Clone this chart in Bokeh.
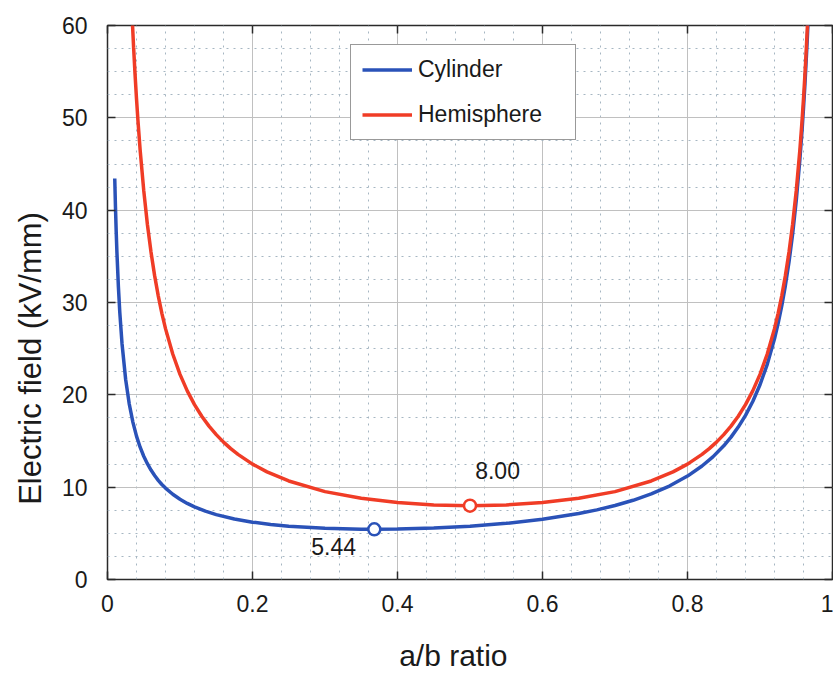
from bokeh.plotting import figure
from bokeh.models import (Range1d, FixedTicker, LinearAxis, Label, Legend,
                          LegendItem, CustomJSTickFormatter)
from bokeh.embed import file_html
from bokeh.resources import INLINE

# ---- data ----
cyl_x = [0.010, 0.011, 0.012, 0.013, 0.015, 0.017, 0.020, 0.025, 0.030, 0.035,
         0.040, 0.045, 0.050, 0.055, 0.060, 0.065, 0.070, 0.075, 0.080, 0.090,
         0.100, 0.110, 0.120, 0.135, 0.150, 0.175, 0.200, 0.225, 0.250, 0.300,
         0.350, 0.368, 0.400, 0.450, 0.500, 0.550, 0.600, 0.650, 0.675, 0.700,
         0.725, 0.750, 0.775, 0.800, 0.820, 0.835, 0.850, 0.860, 0.870, 0.880,
         0.890, 0.900, 0.910, 0.920, 0.925, 0.930, 0.935, 0.940, 0.945, 0.950,
         0.955, 0.958, 0.960, 0.962, 0.965, 0.967]
cyl_y = [43.43, 40.32, 37.68, 35.43, 31.75, 28.87, 25.56, 21.69, 19.01, 17.05,
         15.53, 14.33, 13.35, 12.54, 11.85, 11.26, 10.74, 10.29, 9.90, 9.23,
         8.69, 8.24, 7.86, 7.40, 7.03, 6.56, 6.21, 5.96, 5.77, 5.54,
         5.44, 5.44, 5.46, 5.57, 5.77, 6.08, 6.53, 7.14, 7.54, 8.01,
         8.58, 9.27, 10.12, 11.20, 12.29, 13.28, 14.48, 15.42, 16.51, 17.78,
         19.28, 21.09, 23.30, 26.07, 27.73, 29.63, 31.83, 34.38, 37.41, 41.04,
         45.49, 48.65, 51.04, 53.66, 58.17, 61.63]

hem_x = [0.034, 0.036, 0.038, 0.040, 0.042, 0.045, 0.050, 0.055, 0.060, 0.065,
         0.070, 0.075, 0.080, 0.090, 0.100, 0.110, 0.120, 0.130, 0.140, 0.150,
         0.160, 0.170, 0.180, 0.200, 0.220, 0.250, 0.300, 0.350, 0.400, 0.450,
         0.500, 0.550, 0.600, 0.650, 0.700, 0.750, 0.780, 0.800, 0.820, 0.830,
         0.840, 0.850, 0.860, 0.870, 0.880, 0.890, 0.900, 0.910, 0.920, 0.925,
         0.930, 0.935, 0.940, 0.945, 0.950, 0.955, 0.958, 0.960, 0.962, 0.963,
         0.966]
hem_y = [60.89, 57.63, 54.71, 52.08, 49.71, 46.54, 42.11, 38.48, 35.46, 32.91,
         30.72, 28.83, 27.17, 24.42, 22.22, 20.43, 18.94, 17.68, 16.61, 15.69,
         14.88, 14.17, 13.55, 12.50, 11.66, 10.67, 9.52, 8.79, 8.33, 8.08,
         8.00, 8.08, 8.33, 8.79, 9.52, 10.67, 11.66, 12.50, 13.55, 14.17,
         14.88, 15.69, 16.61, 17.68, 18.94, 20.43, 22.22, 24.42, 27.17, 28.83,
         30.72, 32.91, 35.46, 38.48, 42.11, 46.54, 49.71, 52.08, 54.71, 56.13,
         60.89]

cyl_min = (0.368, 5.44)
hem_min = (0.50, 8.00)
cyl_min_label = "5.44"
hem_min_label = "8.00"
series_names = ["Cylinder", "Hemisphere"]
x_title = "a/b ratio"
y_title = "Electric field (kV/mm)"

x_ticks = [0, 0.2, 0.4, 0.6, 0.8, 1.0]
x_minor = [0.04, 0.08, 0.12, 0.16, 0.24, 0.28, 0.32, 0.36, 0.44, 0.48, 0.52,
           0.56, 0.64, 0.68, 0.72, 0.76, 0.84, 0.88, 0.92, 0.96]
y_ticks = [0, 10, 20, 30, 40, 50, 60]
y_minor = [2.5, 5, 7.5, 12.5, 15, 17.5, 22.5, 25, 27.5, 32.5, 35, 37.5,
           42.5, 45, 47.5, 52.5, 55, 57.5]

BLUE = "#2a52b8"
RED = "#f03c26"
FONT = "Liberation Sans"
TXT = "#1a1a1a"
NB = "\u00a0"

p = figure(width=833, height=674, x_range=Range1d(0, 1), y_range=Range1d(0, 60),
           output_backend="svg", toolbar_location=None,
           min_border_left=107, min_border_top=25, min_border_bottom=94,
           min_border_right=1)
p.background_fill_color = "white"
p.border_fill_color = "white"
p.outline_line_color = "#2a2a2a"
p.outline_line_width = 1.5

xt = FixedTicker(ticks=x_ticks, minor_ticks=x_minor)
yt = FixedTicker(ticks=y_ticks, minor_ticks=y_minor)
p.xaxis.ticker = xt
p.yaxis.ticker = yt
p.xaxis.formatter = CustomJSTickFormatter(code="return Number(tick.toFixed(2)).toString();")

for ax in (p.xaxis[0], p.yaxis[0]):
    ax.axis_line_color = None
    ax.major_tick_in = 8
    ax.major_tick_out = 0
    ax.major_tick_line_width = 1.5
    ax.major_tick_line_color = "#2a2a2a"
    ax.minor_tick_in = 0
    ax.minor_tick_out = 0
    ax.major_label_text_font = FONT
    ax.major_label_text_font_size = "23px"
    ax.major_label_text_color = TXT
    ax.axis_label_text_font = FONT
    ax.axis_label_text_font_style = "normal"
    ax.axis_label_text_color = TXT

p.xaxis.major_label_standoff = 15
p.yaxis.major_label_standoff = 20
p.xaxis.axis_label = x_title + NB * 4
p.xaxis.axis_label_text_font_size = "30px"
p.xaxis.axis_label_standoff = 24
p.yaxis.axis_label = y_title + NB * 13
p.yaxis.axis_label_text_font_size = "31px"
p.yaxis.axis_label_standoff = 11

for loc, tk in (("above", xt), ("right", yt)):
    ax = LinearAxis(ticker=tk, formatter=CustomJSTickFormatter(code="return '';"),
                    axis_line_color=None, major_tick_in=8, major_tick_out=0,
                    major_tick_line_width=1.5, major_tick_line_color="#2a2a2a",
                    minor_tick_in=0, minor_tick_out=0, major_label_standoff=0,
                    major_label_text_font_size="1px")
    p.add_layout(ax, loc)

p.xgrid.grid_line_color = "#c0c0c0"
p.ygrid.grid_line_color = "#c0c0c0"
p.xgrid.minor_grid_line_color = "#a6b6c2"
p.ygrid.minor_grid_line_color = "#a6b6c2"
p.xgrid.minor_grid_line_dash = "2 5"
p.ygrid.minor_grid_line_dash = "2 5"

r1 = p.line(cyl_x, cyl_y, line_color=BLUE, line_width=3.5)
r2 = p.line(hem_x, hem_y, line_color=RED, line_width=3.5)
p.scatter([cyl_min[0]], [cyl_min[1]], size=12, fill_color="white",
          line_color=BLUE, line_width=2.5)
p.scatter([hem_min[0]], [hem_min[1]], size=12, fill_color="white",
          line_color=RED, line_width=2.5)

p.add_layout(Label(x=0.312, y=3.6, text=cyl_min_label, text_align="center",
                   text_baseline="middle", text_font=FONT,
                   text_font_size="23px", text_color=TXT))
p.add_layout(Label(x=0.538, y=11.8, text=hem_min_label, text_align="center",
                   text_baseline="middle", text_font=FONT,
                   text_font_size="23px", text_color=TXT))

legend = Legend(items=[LegendItem(label=series_names[0], renderers=[r1]),
                       LegendItem(label=series_names[1], renderers=[r2])],
                location=(243, 439), orientation="vertical",
                label_text_font=FONT, label_text_font_size="23px",
                label_text_color=TXT, glyph_width=50, glyph_height=27,
                label_height=27, label_width=146, label_standoff=6,
                padding=11, spacing=18, margin=0,
                border_line_color="#333333", border_line_width=1.5,
                background_fill_color="white", background_fill_alpha=1.0)
p.add_layout(legend)

open("out.html", "w").write(file_html(p, INLINE))
